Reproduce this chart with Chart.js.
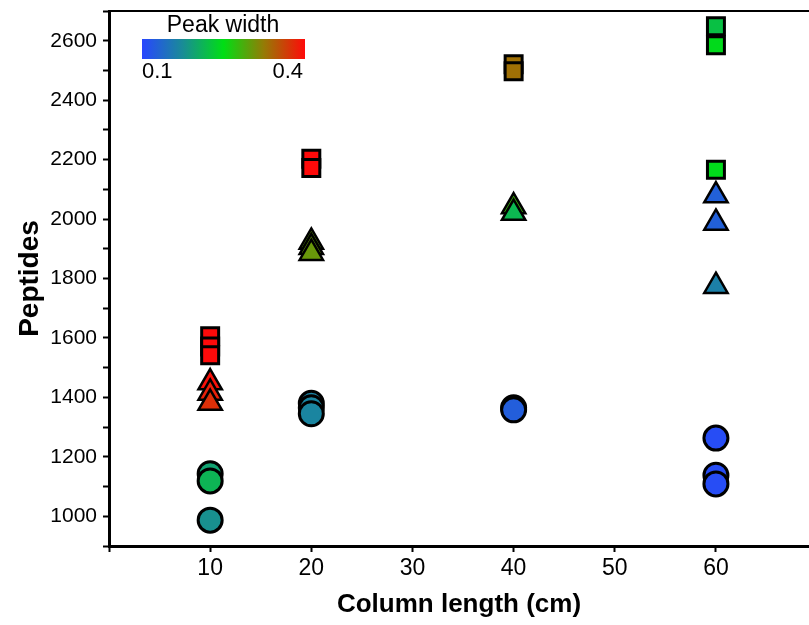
<!DOCTYPE html>
<html>
<head>
<meta charset="utf-8">
<script src="https://cdn.jsdelivr.net/npm/chart.js@4.4.1/dist/chart.umd.min.js"></script>
<style>
  html, body { margin: 0; padding: 0; background: #fff; }
  #wrap { width: 809px; height: 625px; }
</style>
</head>
<body>
<div id="wrap"><canvas id="chart" width="809" height="625"></canvas></div>
<script>
// Values. Inside each column the points go top to bottom,
// so the lower marker is drawn over the upper one as in the original.
const squareLength = [10, 10, 10, 20, 20, 40, 40, 60, 60, 60];
const squarePeptides = [1606, 1571, 1542, 2203, 2172, 2521, 2497, 2649, 2585, 2166];
const squareWidth = [0.40, 0.40, 0.40, 0.40, 0.40, 0.332, 0.332, 0.2225, 0.246, 0.246];

const triangleLength = [10, 10, 10, 20, 20, 20, 40, 40, 60, 60, 60];
const trianglePeptides = [1450, 1415, 1381, 1923, 1905, 1885, 2042, 2020, 2079, 1987, 1774];
const triangleWidth = [0.395, 0.385, 0.375, 0.298, 0.30, 0.3025, 0.28, 0.215, 0.128, 0.128, 0.162];

const circleLength = [10, 10, 10, 20, 20, 20, 40, 40, 60, 60, 60];
const circlePeptides = [1143, 1119, 987, 1380, 1365, 1345, 1365, 1358, 1263, 1138, 1109];
const circleWidth = [0.196, 0.2125, 0.179, 0.165, 0.167, 0.168, 0.1255, 0.1255, 0.1075, 0.1075, 0.1075];

const xTicks = [0, 10, 20, 30, 40, 50, 60];

// colour key: peak width -> rgb
const widthStops = [
    [0.10, 40, 70, 255],
    [0.175, 25, 140, 150],
    [0.25, 0, 222, 20],
    [0.325, 150, 122, 5],
    [0.40, 255, 10, 10]
];

const FONT = '"Liberation Sans", Arial, sans-serif';

function widthColor(w) {
    for (let i = 1; i < widthStops.length; i++) {
        const a = widthStops[i - 1], b = widthStops[i];
        if (w <= b[0] || i === widthStops.length - 1) {
            const t = Math.max(0, Math.min(1, (w - a[0]) / (b[0] - a[0])));
            const c = [1, 2, 3].map(k => Math.round(a[k] + (b[k] - a[k]) * t));
            return `rgb(${c[0]},${c[1]},${c[2]})`;
        }
    }
}

const toPoints = (xs, ys) => xs.map((x, i) => ({ x: x, y: ys[i] }));

// drop the label padding chart.js adds at the axis ends
function noEndPadding(scale) {
    scale.paddingLeft = 0;
    scale.paddingRight = 0;
    scale.paddingTop = 0;
    scale.paddingBottom = 0;
}

// top frame line and the peak width colour bar
const frameAndKey = {
    id: 'frameAndKey',
    afterDraw(chart) {
        const { ctx, chartArea } = chart;
        ctx.save();
        ctx.strokeStyle = '#000';
        ctx.lineWidth = 2;
        ctx.beginPath();
        ctx.moveTo(chartArea.left, chartArea.top);
        ctx.lineTo(chartArea.right, chartArea.top);
        ctx.stroke();

        const x0 = 142, x1 = 305, y0 = 39, y1 = 59;
        const grad = ctx.createLinearGradient(x0, 0, x1, 0);
        widthStops.forEach(s => {
            const pos = Math.min(1, Math.max(0, (s[0] - 0.1) / 0.3));
            grad.addColorStop(pos, `rgb(${s[1]},${s[2]},${s[3]})`);
        });
        ctx.fillStyle = grad;
        ctx.fillRect(x0, y0, x1 - x0, y1 - y0);

        ctx.fillStyle = '#000';
        ctx.textBaseline = 'middle';
        ctx.font = `23px ${FONT}`;
        ctx.textAlign = 'center';
        ctx.fillText('Peak width', 223, 26);
        ctx.font = `22px ${FONT}`;
        ctx.textAlign = 'left';
        ctx.fillText('0.1', x0, 72);
        ctx.textAlign = 'right';
        ctx.fillText('0.4', x1 - 2, 72);
        ctx.restore();
    }
};

const ctx = document.getElementById('chart').getContext('2d');
new Chart(ctx, {
    type: 'scatter',
    data: {
        datasets: [
            {
                data: toPoints(squareLength, squarePeptides),
                pointStyle: 'rect', pointRadius: 12, borderWidth: 3,
                pointBackgroundColor: squareWidth.map(widthColor), pointBorderColor: '#000'
            },
            {
                data: toPoints(triangleLength, trianglePeptides),
                pointStyle: 'triangle', pointRadius: 13.5, borderWidth: 2.5,
                pointBackgroundColor: triangleWidth.map(widthColor), pointBorderColor: '#000'
            },
            {
                data: toPoints(circleLength, circlePeptides),
                pointStyle: 'circle', pointRadius: 12, borderWidth: 3,
                pointBackgroundColor: circleWidth.map(widthColor), pointBorderColor: '#000'
            }
        ]
    },
    options: {
        responsive: false, animation: false, events: [],
        layout: { autoPadding: false, padding: { top: 11, right: 0, bottom: 0, left: 0 } },
        plugins: { legend: { display: false }, tooltip: { enabled: false } },
        scales: {
            x: {
                type: 'linear', min: 0, max: 69.2,
                afterFit(scale) { scale.height = 79; noEndPadding(scale); },
                afterBuildTicks(scale) { scale.ticks = xTicks.map(v => ({ value: v })); },
                grid: { drawOnChartArea: false, tickLength: 6, tickWidth: 2, tickColor: '#000' },
                border: { color: '#000', width: 3 },
                ticks: {
                    color: '#000', padding: 3,
                    font: { family: '"Liberation Sans Narrow", ' + FONT, size: 23 },
                    callback: v => v === 0 ? '' : v
                },
                title: {
                    display: true, text: 'Column length (cm)', color: '#000',
                    font: { family: FONT, size: 26, weight: 'bold', lineHeight: 1.2 },
                    padding: { top: 0, bottom: 5 }
                }
            },
            y: {
                min: 900, max: 2700,
                afterFit(scale) { scale.width = 109; noEndPadding(scale); },
                grid: { drawOnChartArea: false, tickLength: 6, tickWidth: 2, tickColor: '#000' },
                border: { color: '#000', width: 3 },
                ticks: {
                    stepSize: 100, autoSkip: false, color: '#000', padding: 6,
                    font: { family: FONT, size: 21 },
                    callback: v => v % 200 === 0 ? v : ''
                },
                title: {
                    display: true, text: 'Peptides', color: '#000',
                    font: { family: FONT, size: 28, weight: 'bold', lineHeight: 1.2 },
                    padding: { top: 13, bottom: 0 }
                }
            }
        }
    },
    plugins: [frameAndKey]
});
</script>
</body>
</html>
